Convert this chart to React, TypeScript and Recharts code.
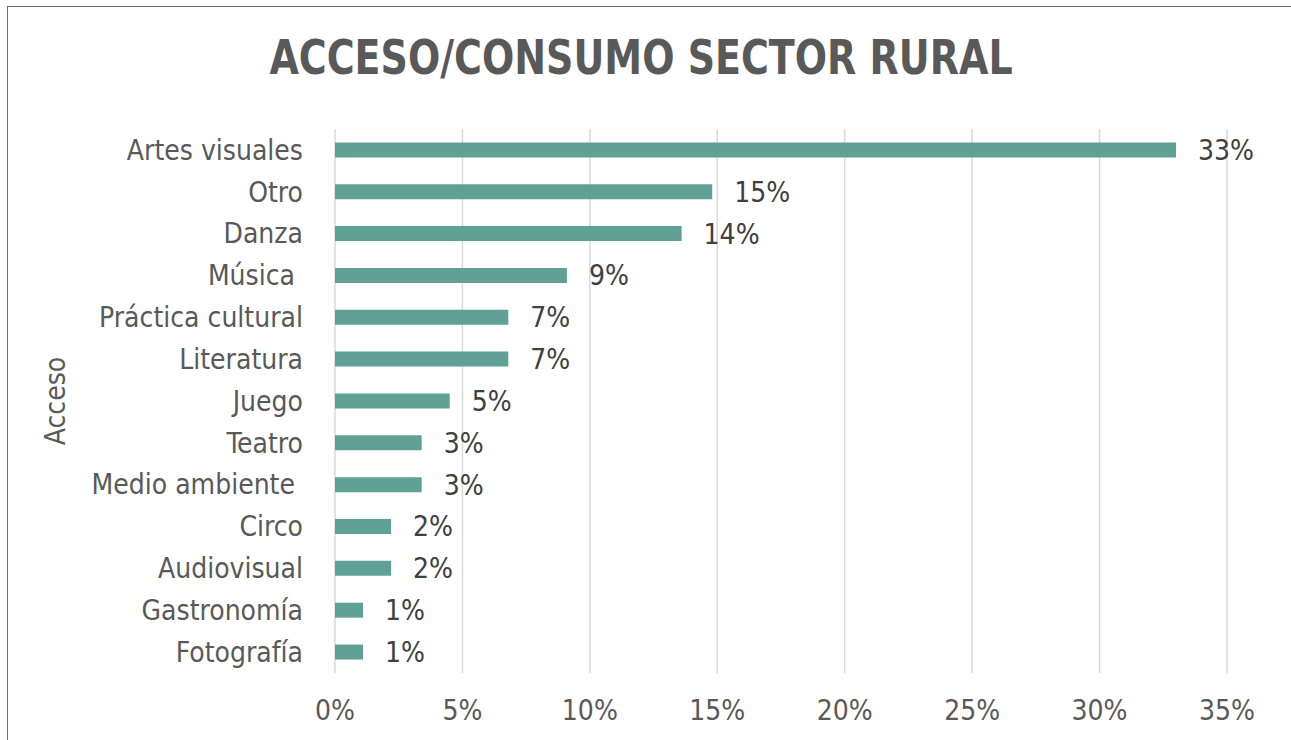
import React from "react";
import { BarChart, Bar, XAxis, YAxis, CartesianGrid, LabelList } from "recharts";

const categories = [
  "Artes visuales",
  "Otro",
  "Danza",
  "Música ",
  "Práctica cultural",
  "Literatura",
  "Juego",
  "Teatro",
  "Medio ambiente ",
  "Circo",
  "Audiovisual",
  "Gastronomía",
  "Fotografía",
];
const values = [33.0, 14.8, 13.6, 9.1, 6.8, 6.8, 4.5, 3.4, 3.4, 2.2, 2.2, 1.1, 1.1];
const valueLabels = ["33%", "15%", "14%", "9%", "7%", "7%", "5%", "3%", "3%", "2%", "2%", "1%", "1%"];
const xTicks = [0, 5, 10, 15, 20, 25, 30, 35];

const data = categories.map((c, i) => ({ name: c, value: values[i], label: valueLabels[i] }));

const FONT = "'Liberation Sans Narrow', 'DejaVu Sans Condensed', 'Liberation Sans', sans-serif";

const YTick = (props: any) => {
  const { x, y, payload } = props;
  return (
    <text
      x={x}
      y={y}
      dy="0.35em"
      textAnchor="end"
      fill="#595959"
      fontSize={28}
      fontFamily={FONT}
      style={{ whiteSpace: "pre" }}
    >
      {payload.value}
    </text>
  );
};

export default function App() {
  return (
    <div style={{ position: "absolute", left: 0, top: 0, width: 1291, height: 740, background: "#fff", overflow: "hidden" }}>
      <div
        style={{
          position: "absolute",
          left: 7,
          top: 6,
          width: 1300,
          height: 800,
          borderLeft: "1.5px solid #6e6e6e",
          borderTop: "1.5px solid #6e6e6e",
        }}
      />
      <div
        style={{
          position: "absolute",
          left: 0,
          top: 22,
          width: 1282,
          textAlign: "center",
          fontFamily: FONT,
          fontWeight: "bold",
          fontSize: 48,
          lineHeight: "70px",
          color: "#595959",
          transform: "scaleX(0.88)",
          transformOrigin: "641px 0",
        }}
      >
        ACCESO/CONSUMO SECTOR RURAL
      </div>
      <div style={{ position: "absolute", left: 0, top: 0 }}>
        <BarChart
          width={1291}
          height={740}
          data={data}
          layout="vertical"
          margin={{ top: 129, right: 64, bottom: 0, left: 0 }}
          barCategoryGap="32%"
        >
          <CartesianGrid horizontal={false} vertical={true} stroke="#D9D9D9" strokeWidth={1.5} />
          <XAxis
            type="number"
            domain={[0, 35]}
            ticks={xTicks}
            tickFormatter={(v: number) => `${v}%`}
            axisLine={false}
            tickLine={false}
            tickSize={0}
            tickMargin={27}
            height={67}
            tick={{ fill: "#595959", fontSize: 28, fontFamily: FONT }}
            interval={0}
          />
          <YAxis
            type="category"
            dataKey="name"
            width={335}
            axisLine={false}
            tickLine={false}
            tickSize={0}
            tickMargin={32}
            tick={<YTick />}
            interval={0}
            label={{
              value: "Acceso",
              angle: -90,
              position: "insideLeft",
              offset: 55,
              style: { fill: "#595959", fontSize: 28, fontFamily: FONT, textAnchor: "middle" },
            }}
          />
          <Bar dataKey="value" fill="#5FA197" isAnimationActive={false}>
            <LabelList
              dataKey="label"
              position="right"
              offset={22}
              style={{ fill: "#404040", fontSize: 28, fontFamily: FONT }}
            />
          </Bar>
        </BarChart>
      </div>
    </div>
  );
}
